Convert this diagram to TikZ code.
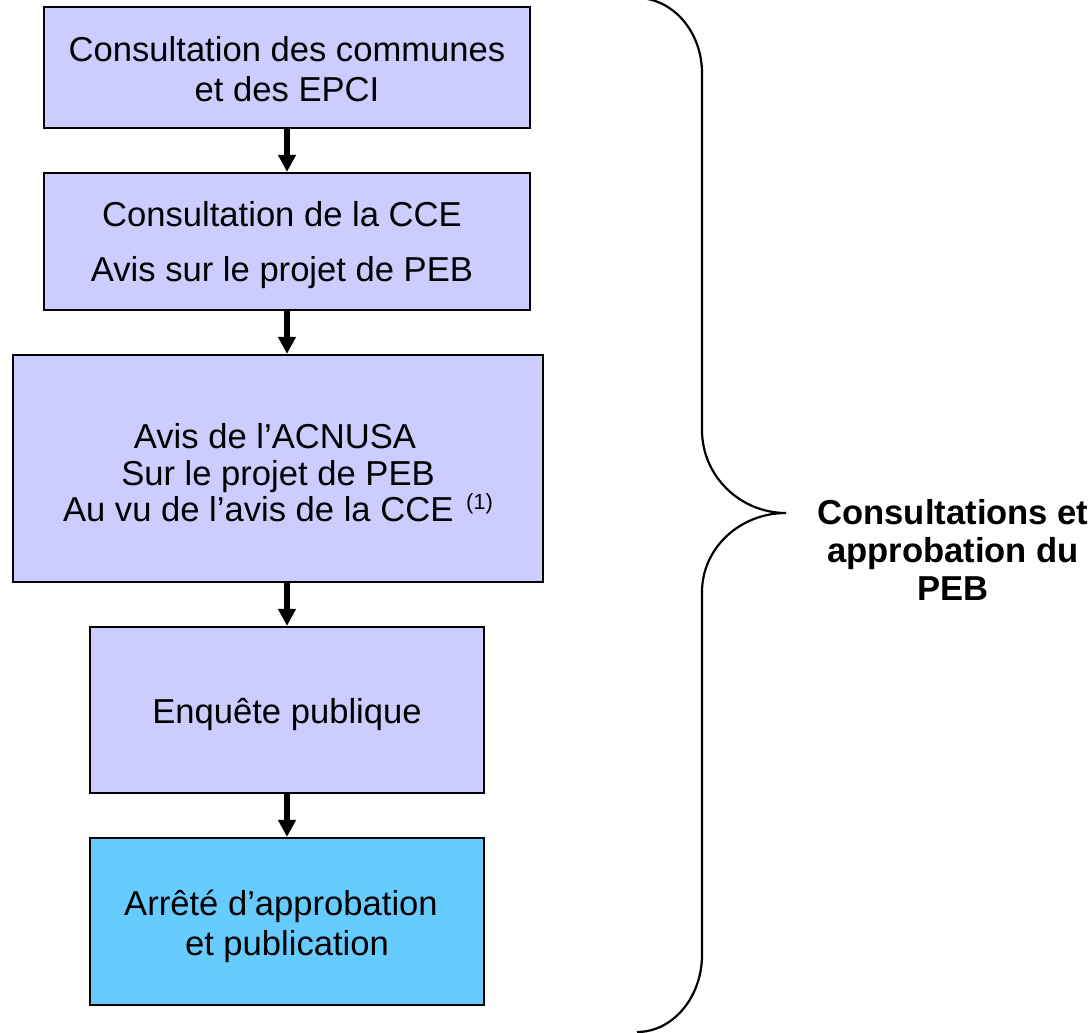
\documentclass[tikz,border=0pt]{standalone}
\usepackage{fontspec}
\setmainfont{Liberation Sans}
\usetikzlibrary{arrows.meta}
\definecolor{lav}{HTML}{CCCCFF}
\definecolor{sky}{HTML}{66CCFF}
\tikzset{
  box/.style={draw=black, line width=2.2pt, fill=lav, inner sep=0pt},
  txt/.style={inner sep=0pt, align=center, font=\fontsize{34.6}{40}\selectfont},
  flow/.style={line width=6pt, -{Triangle[width=17pt,length=17pt]}},
  brace/.style={line width=2.2pt}
}
\begin{document}
\begin{tikzpicture}[x=1pt,y=-1pt]
\useasboundingbox (0,0) rectangle (1092,1033);
\fill[white] (0,0) rectangle (1092,1033);

\node[box, minimum width=486pt, minimum height=121pt] (b1) at (287,67.5) {};
\node[box, minimum width=486pt, minimum height=137pt] (b2) at (287,241.5) {};
\node[box, minimum width=530pt, minimum height=227pt] (b3) at (278,468.5) {};
\node[box, minimum width=394pt, minimum height=166pt] (b4) at (287,710) {};
\node[box, fill=sky, minimum width=394pt, minimum height=167pt] (b5) at (287,921.5) {};

\node[txt] (t1) at (287,69.5) {Consultation des communes\\et des EPCI};
\node[txt, font=\fontsize{34.6}{55}\selectfont] (t2) at (282,245.5)
  {Consultation de la CCE\\Avis sur le projet de PEB};
\node[txt, font=\fontsize{34.6}{36.5}\selectfont] (t3) at (278,473)
  {Avis de l’ACNUSA\hspace*{6pt}\\Sur le projet de PEB\\Au vu de l’avis de la CCE \hspace{3pt}\raisebox{12pt}{\fontsize{22}{22}\selectfont(1)}};
\node[txt] (t4) at (287,714) {Enquête publique};
\node[txt] (t5) at (287,926) {Arrêté d’approbation\hspace*{12pt}\\et publication};

\draw[flow] (b1.south) -- (b2.north);
\draw[flow] (b2.south) -- (b2.south |- b3.north);
\draw[flow] (b3.south -| b4.north) -- (b4.north);
\draw[flow] (b4.south) -- (b5.north);

\draw[brace] (637,-2) .. controls (673,-2) and (702,32) .. (702,73)
  -- (702,430) .. controls (702,476) and (740,513) .. (786,513)
  coordinate (tip)
  .. controls (740,513) and (702,548) .. (702,592)
  -- (702,955) .. controls (702,997) and (673,1032) .. (637,1032);

\node[align=center, font=\bfseries\fontsize{34.6}{38}\selectfont] (lab) at (953,550)
  {Consultations et\\approbation du\\PEB};
\end{tikzpicture}
\end{document}
